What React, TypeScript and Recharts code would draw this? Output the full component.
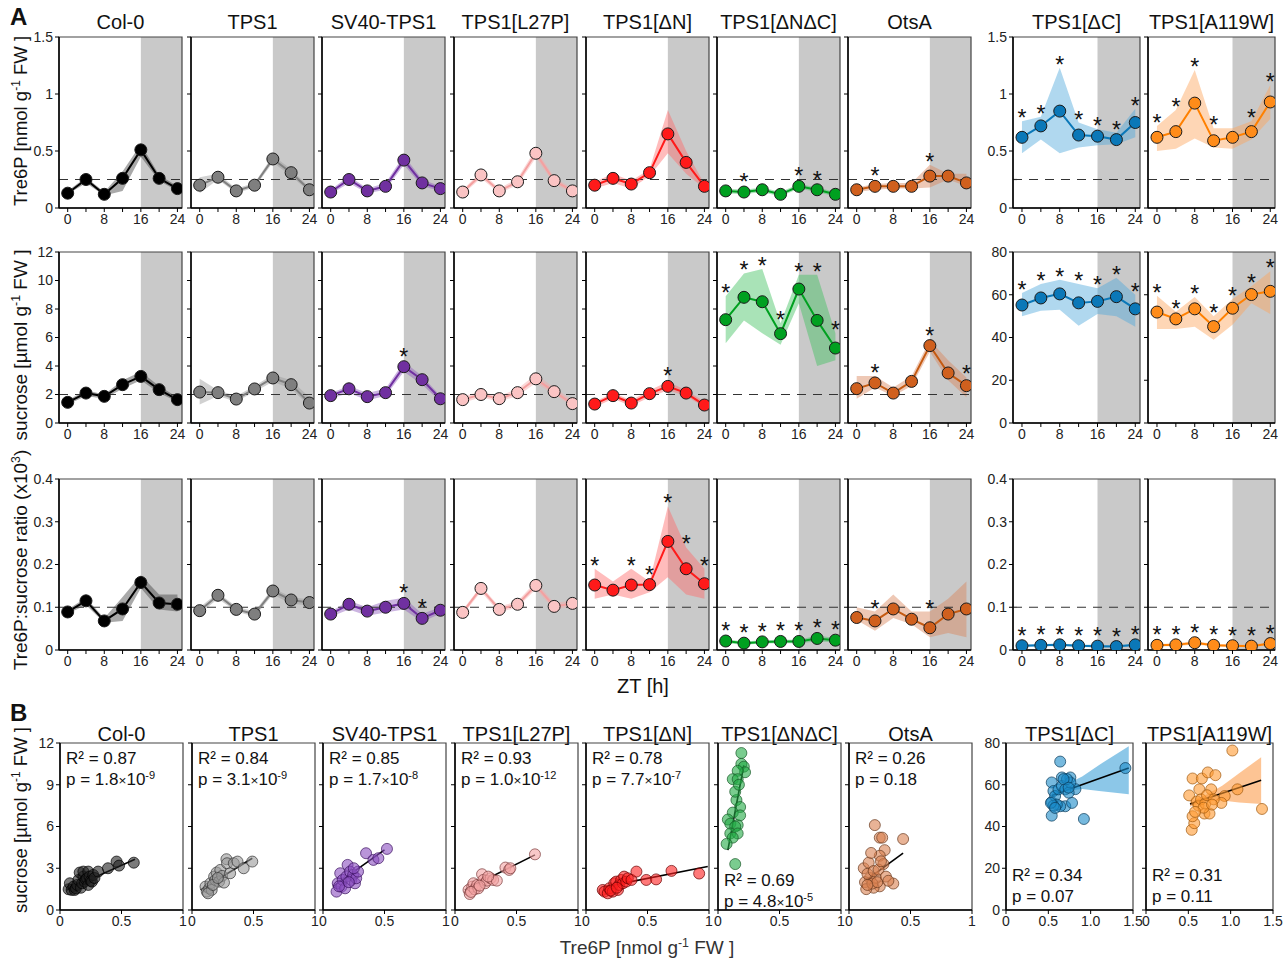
import React from "react"
import { ComposedChart, Line, Area, Scatter, XAxis, YAxis, ReferenceArea, ReferenceLine, LabelList } from "recharts"

const FONT = '"Liberation Sans", Arial, sans-serif'

const genotypes = ["Col-0", "TPS1", "SV40-TPS1", "TPS1[L27P]", "TPS1[ΔN]", "TPS1[ΔNΔC]", "OtsA", "TPS1[ΔC]", "TPS1[A119W]"]
const zt = [0, 4, 8, 12, 16, 20, 24]

// Tre6P [nmol/g FW]
const tre6pMean = [
  [0.13, 0.25, 0.12, 0.26, 0.51, 0.26, 0.17],
  [0.20, 0.27, 0.15, 0.20, 0.43, 0.31, 0.16],
  [0.14, 0.25, 0.15, 0.19, 0.42, 0.22, 0.17],
  [0.14, 0.29, 0.15, 0.23, 0.48, 0.24, 0.15],
  [0.20, 0.26, 0.21, 0.31, 0.65, 0.40, 0.19],
  [0.15, 0.14, 0.16, 0.12, 0.19, 0.16, 0.12],
  [0.16, 0.19, 0.19, 0.19, 0.28, 0.28, 0.22],
  [0.62, 0.72, 0.85, 0.64, 0.63, 0.60, 0.75],
  [0.62, 0.67, 0.92, 0.59, 0.62, 0.67, 0.93],
]
const tre6pLow = [
  [0.12, 0.22, 0.11, 0.15, 0.45, 0.24, 0.15],
  [0.13, 0.25, 0.13, 0.18, 0.40, 0.28, 0.14],
  [0.12, 0.22, 0.13, 0.16, 0.38, 0.19, 0.15],
  [0.12, 0.26, 0.13, 0.20, 0.44, 0.21, 0.13],
  [0.17, 0.22, 0.17, 0.28, 0.48, 0.30, 0.17],
  [0.13, 0.12, 0.14, 0.10, 0.17, 0.14, 0.10],
  [0.14, 0.16, 0.17, 0.17, 0.18, 0.25, 0.19],
  [0.48, 0.60, 0.48, 0.53, 0.55, 0.56, 0.62],
  [0.50, 0.52, 0.61, 0.53, 0.52, 0.60, 0.78],
]
const tre6pHigh = [
  [0.15, 0.27, 0.14, 0.32, 0.56, 0.29, 0.19],
  [0.27, 0.30, 0.17, 0.22, 0.46, 0.34, 0.18],
  [0.16, 0.28, 0.17, 0.22, 0.46, 0.25, 0.19],
  [0.16, 0.32, 0.17, 0.26, 0.52, 0.27, 0.17],
  [0.23, 0.30, 0.24, 0.34, 0.86, 0.50, 0.21],
  [0.17, 0.16, 0.18, 0.14, 0.21, 0.18, 0.14],
  [0.18, 0.21, 0.22, 0.22, 0.38, 0.30, 0.30],
  [0.76, 0.80, 1.23, 0.75, 0.69, 0.66, 0.87],
  [0.72, 0.86, 1.21, 0.70, 0.70, 0.76, 1.08],
]
const tre6pStars = [
  [0, 0, 0, 0, 0, 0, 0],
  [0, 0, 0, 0, 0, 0, 0],
  [0, 0, 0, 0, 0, 0, 0],
  [0, 0, 0, 0, 0, 0, 0],
  [0, 0, 0, 0, 0, 0, 0],
  [0, 1, 0, 0, 1, 1, 0],
  [0, 1, 0, 0, 1, 0, 0],
  [1, 1, 1, 1, 1, 1, 1],
  [1, 1, 1, 1, 0, 1, 1],
]

// sucrose [umol/g FW]
const sucMean = [
  [1.45, 2.10, 1.87, 2.69, 3.27, 2.34, 1.64],
  [2.17, 2.13, 1.68, 2.39, 3.16, 2.69, 1.40],
  [1.92, 2.40, 1.85, 2.13, 3.95, 3.04, 1.70],
  [1.64, 2.00, 1.71, 2.13, 3.10, 2.20, 1.36],
  [1.33, 1.92, 1.40, 2.06, 2.57, 2.10, 1.26],
  [7.25, 8.82, 8.51, 6.27, 9.40, 7.20, 5.26],
  [2.41, 2.81, 2.10, 2.92, 5.43, 3.51, 2.62],
  [55.2, 58.5, 60.4, 56.2, 56.9, 59.1, 53.4],
  [51.9, 48.7, 53.4, 45.1, 53.7, 60.1, 61.6],
]
const sucLow = [
  [1.3, 1.9, 1.7, 2.4, 3.0, 2.1, 1.5],
  [1.3, 1.9, 1.5, 2.2, 2.9, 2.4, 1.2],
  [1.7, 2.1, 1.6, 1.9, 3.6, 2.7, 1.5],
  [1.4, 1.8, 1.5, 1.9, 2.8, 2.0, 1.2],
  [1.1, 1.7, 1.2, 1.8, 2.3, 1.9, 1.1],
  [5.6, 7.2, 6.3, 5.5, 8.4, 4.0, 4.4],
  [1.7, 2.5, 1.9, 2.6, 5.0, 3.0, 1.8],
  [50.0, 52.5, 53.0, 45.5, 51.0, 50.0, 45.0],
  [44.0, 44.0, 45.0, 39.0, 46.0, 56.0, 51.0],
]
const sucHigh = [
  [1.6, 2.3, 2.0, 3.0, 3.6, 2.6, 1.8],
  [3.1, 2.3, 1.9, 2.6, 3.4, 3.0, 1.8],
  [2.1, 2.6, 2.1, 2.4, 4.3, 3.3, 1.9],
  [1.9, 2.2, 1.9, 2.4, 3.4, 2.5, 1.6],
  [1.5, 2.1, 1.6, 2.3, 2.9, 2.3, 1.5],
  [8.9, 10.5, 10.8, 7.0, 10.4, 10.4, 6.3],
  [3.3, 3.3, 2.5, 3.3, 5.8, 4.4, 3.2],
  [60.8, 65.0, 67.0, 65.0, 63.0, 67.9, 60.0],
  [59.5, 52.0, 59.0, 50.0, 58.0, 64.0, 71.0],
]
const sucStars = [
  [0, 0, 0, 0, 0, 0, 0],
  [0, 0, 0, 0, 0, 0, 0],
  [0, 0, 0, 0, 1, 0, 0],
  [0, 0, 0, 0, 0, 0, 0],
  [0, 0, 0, 0, 1, 0, 0],
  [1, 1, 1, 1, 1, 1, 1],
  [0, 1, 0, 0, 1, 0, 1],
  [1, 1, 1, 1, 1, 1, 1],
  [1, 1, 1, 1, 1, 1, 1],
]

// Tre6P:sucrose ratio (x10^3)
const ratioMean = [
  [0.089, 0.115, 0.068, 0.096, 0.158, 0.110, 0.107],
  [0.092, 0.128, 0.095, 0.084, 0.138, 0.117, 0.111],
  [0.084, 0.107, 0.091, 0.100, 0.109, 0.074, 0.093],
  [0.088, 0.144, 0.095, 0.107, 0.151, 0.102, 0.109],
  [0.152, 0.140, 0.152, 0.153, 0.254, 0.190, 0.155],
  [0.021, 0.016, 0.019, 0.020, 0.020, 0.027, 0.023],
  [0.076, 0.068, 0.096, 0.072, 0.052, 0.084, 0.096],
  [0.010, 0.011, 0.012, 0.010, 0.009, 0.008, 0.012],
  [0.011, 0.012, 0.017, 0.011, 0.010, 0.009, 0.015],
]
const ratioLow = [
  [0.085, 0.105, 0.064, 0.068, 0.145, 0.095, 0.090],
  [0.085, 0.120, 0.090, 0.078, 0.130, 0.108, 0.104],
  [0.078, 0.095, 0.080, 0.088, 0.095, 0.066, 0.085],
  [0.082, 0.136, 0.088, 0.100, 0.142, 0.095, 0.102],
  [0.120, 0.130, 0.120, 0.135, 0.170, 0.130, 0.120],
  [0.016, 0.012, 0.015, 0.016, 0.016, 0.020, 0.018],
  [0.070, 0.045, 0.075, 0.060, 0.030, 0.040, 0.030],
  [0.007, 0.008, 0.009, 0.007, 0.006, 0.006, 0.009],
  [0.008, 0.009, 0.013, 0.008, 0.007, 0.007, 0.011],
]
const ratioHigh = [
  [0.095, 0.122, 0.074, 0.124, 0.175, 0.130, 0.130],
  [0.100, 0.134, 0.102, 0.090, 0.145, 0.124, 0.118],
  [0.090, 0.115, 0.100, 0.115, 0.122, 0.085, 0.100],
  [0.094, 0.150, 0.102, 0.114, 0.160, 0.110, 0.116],
  [0.190, 0.160, 0.190, 0.160, 0.336, 0.240, 0.190],
  [0.025, 0.020, 0.023, 0.024, 0.024, 0.034, 0.028],
  [0.100, 0.090, 0.130, 0.090, 0.090, 0.120, 0.160],
  [0.013, 0.014, 0.015, 0.013, 0.012, 0.011, 0.015],
  [0.014, 0.016, 0.021, 0.014, 0.013, 0.012, 0.019],
]
const ratioStars = [
  [0, 0, 0, 0, 0, 0, 0],
  [0, 0, 0, 0, 0, 0, 0],
  [0, 0, 0, 0, 1, 1, 0],
  [0, 0, 0, 0, 0, 0, 0],
  [1, 0, 1, 1, 1, 1, 1],
  [1, 1, 1, 1, 1, 1, 1],
  [0, 1, 0, 0, 1, 0, 0],
  [1, 1, 1, 1, 1, 1, 1],
  [1, 1, 1, 1, 1, 1, 1],
]

// panel B: Tre6P (x) vs sucrose (y)
const scCol0 = [[0.07, 1.49], [0.08, 1.92], [0.095, 1.44], [0.11, 1.68], [0.12, 1.44], [0.13, 1.55], [0.14, 1.8], [0.15, 2.16], [0.16, 2.69], [0.17, 1.6], [0.18, 1.92], [0.19, 2.4], [0.19, 2.76], [0.2, 2.04], [0.21, 2.2], [0.22, 2.28], [0.23, 2.76], [0.23, 1.8], [0.24, 2.4], [0.25, 2.1], [0.26, 2.04], [0.27, 2.52], [0.28, 2.3], [0.31, 2.76], [0.39, 3.0], [0.46, 3.48], [0.48, 3.19], [0.6, 3.4]]
const scTps1 = [[0.11, 1.68], [0.12, 1.32], [0.14, 1.56], [0.15, 1.92], [0.16, 1.44], [0.18, 2.4], [0.19, 2.16], [0.2, 2.69], [0.22, 2.04], [0.23, 2.88], [0.245, 2.45], [0.26, 1.97], [0.28, 3.65], [0.285, 3.36], [0.31, 2.64], [0.34, 3.36], [0.37, 3.48], [0.42, 3.0], [0.49, 3.48], [0.13, 1.2], [0.17, 1.8], [0.21, 2.3]]
const scSv40 = [[0.11, 1.32], [0.12, 1.92], [0.14, 2.64], [0.15, 1.68], [0.16, 2.16], [0.18, 1.56], [0.19, 2.4], [0.2, 3.24], [0.22, 2.76], [0.23, 2.16], [0.245, 2.52], [0.26, 1.92], [0.27, 2.28], [0.285, 2.76], [0.35, 4.08], [0.41, 3.6], [0.45, 3.72], [0.52, 4.39], [0.13, 1.7], [0.21, 2.0], [0.25, 3.0]]
const scL27p = [[0.11, 1.44], [0.12, 1.15], [0.14, 1.68], [0.15, 1.92], [0.16, 1.49], [0.18, 1.8], [0.19, 1.56], [0.22, 2.57], [0.23, 2.16], [0.245, 1.92], [0.26, 2.11], [0.29, 2.28], [0.31, 2.16], [0.34, 2.11], [0.41, 3.05], [0.44, 2.88], [0.45, 3.0], [0.65, 4.0], [0.13, 1.3], [0.2, 1.75], [0.27, 2.4]]
const scDN = [[0.136, 1.44], [0.15, 1.32], [0.177, 1.2], [0.19, 1.56], [0.218, 1.32], [0.23, 1.92], [0.245, 2.04], [0.26, 1.44], [0.27, 1.8], [0.286, 2.16], [0.3, 1.92], [0.31, 2.4], [0.327, 2.04], [0.34, 2.28], [0.37, 2.16], [0.41, 2.76], [0.49, 2.16], [0.57, 2.2], [0.695, 2.81], [0.92, 2.62], [0.2, 1.4], [0.25, 1.6]]
const scDNDC = [[0.19, 11.28], [0.19, 10.5], [0.21, 10.3], [0.22, 9.9], [0.16, 10.0], [0.12, 9.4], [0.16, 9.4], [0.15, 7.9], [0.18, 7.4], [0.12, 7.0], [0.08, 6.5], [0.1, 6.2], [0.16, 6.1], [0.14, 6.0], [0.1, 5.5], [0.16, 5.5], [0.12, 5.2], [0.07, 4.75], [0.14, 3.3], [0.18, 6.8], [0.14, 8.5], [0.17, 9.0]]
const scOtsA = [[0.21, 6.1], [0.25, 5.2], [0.27, 5.2], [0.44, 5.1], [0.29, 4.3], [0.25, 3.9], [0.36, 1.9], [0.25, 1.7], [0.2, 1.6], [0.17, 2.3], [0.22, 2.3], [0.28, 3.3], [0.12, 3.0], [0.13, 2.0], [0.14, 1.5], [0.15, 2.6], [0.16, 3.4], [0.18, 4.1], [0.2, 2.8], [0.19, 1.9], [0.23, 2.0], [0.24, 2.9], [0.26, 3.5], [0.3, 2.4], [0.15, 1.8], [0.32, 2.1]]
const scDC = [[0.64, 71.1], [0.54, 45.2], [0.54, 51.7], [0.54, 61.1], [0.66, 63.5], [0.76, 63.5], [0.7, 49.7], [0.78, 51.3], [0.92, 43.6], [1.41, 68], [0.82, 57.9], [0.56, 57], [0.58, 54.6], [0.62, 57.8], [0.66, 59.4], [0.7, 57.8], [0.74, 56.2], [0.76, 61.1], [0.72, 62.7], [0.64, 49.7], [0.6, 50.5], [0.56, 50], [0.68, 62.7], [0.74, 58.6], [0.53, 51.3], [0.58, 48.9]]
const scA119W = [[1.02, 76.4], [0.55, 63], [0.66, 63], [0.73, 65.9], [0.82, 64.6], [0.51, 54.9], [0.63, 57.8], [0.77, 57.8], [0.93, 54.6], [1.08, 57.8], [1.37, 48.4], [0.54, 38.4], [0.57, 41.6], [0.55, 44.9], [0.69, 46.2], [0.75, 46.2], [0.89, 51.3], [0.6, 52], [0.62, 50], [0.65, 53], [0.7, 51], [0.72, 55], [0.68, 49], [0.58, 47], [0.8, 53], [0.78, 50.5]]
const scatterSets = [scCol0, scTps1, scSv40, scL27p, scDN, scDNDC, scOtsA, scDC, scA119W]

// regression line ends [x0, y0, x1, y1]
const fitLines = [
  [0.054, 1.44, 0.61, 3.65],
  [0.07, 1.44, 0.49, 3.72],
  [0.08, 1.68, 0.5, 4.32],
  [0.08, 1.44, 0.65, 3.96],
  [0.15, 1.66, 0.99, 3.12],
  [0.08, 4.3, 0.21, 10.4],
  [0.14, 2.15, 0.44, 4.08],
  [0.54, 54.9, 1.45, 68.0],
  [0.52, 50.8, 1.36, 62.2],
]
// confidence bands [x, low, high]
const bandDC = [[0.54, 53.5, 56.5], [0.7, 57, 60], [0.9, 58, 64], [1.1, 57, 69.5], [1.45, 55.5, 78.5]]
const bandA119W = [[0.52, 49.5, 52], [0.7, 52, 55], [0.9, 52.5, 59.5], [1.1, 51.5, 65.5], [1.36, 50.8, 73.2]]

const r2Text = ["0.87", "0.84", "0.85", "0.93", "0.78", "0.69", "0.26", "0.34", "0.31"]
const pMant = ["1.8", "3.1", "1.7", "1.0", "7.7", "4.8", "0.18", "0.07", "0.11"]
const pExp = ["-9", "-9", "-8", "-12", "-7", "-5", "", "", ""]

const lineColors = ["#000000", "#808080", "#7030a0", "#f4a0a0", "#ff1a1a", "#00a020", "#c55a11", "#0b78b8", "#ff8000"]
const dotColors = ["#000000", "#7f7f7f", "#7030a0", "#fbc4c4", "#ff1a1a", "#00a020", "#d0601e", "#0b78b8", "#ff8c1a"]
const bandColors = ["#404040", "#9a9a9a", "#8e5cbd", "#f7a8a8", "#ff6b6b", "#40c060", "#d9865a", "#4fa9dc", "#fca45a"]
const scFill = ["#222222", "#9a9a9a", "#8a4fbf", "#f4a3a3", "#ff2020", "#22aa44", "#d98050", "#1a8ac8", "#ff9a30"]
const scStroke = ["#000000", "#333333", "#3a1060", "#7a3a3a", "#660000", "#1a5a2a", "#6a3a20", "#0a3a5a", "#a05a10"]

const colLeftA = [59, 191, 322, 454, 586, 717, 848, 1013, 1148]
const colLeftB = [60, 192, 323, 455, 586, 718, 849, 1006, 1146]
const colWidth = [123, 123, 123, 123, 123, 123, 123, 127, 127]
const rowTopA = [37, 252, 479]
const rowH = 171
const xDom = [-1.9, 25]

const rowCfg = [
  { mean: tre6pMean, lo: tre6pLow, hi: tre6pHigh, stars: tre6pStars, max: 1.5, ticks: [0, 0.5, 1, 1.5], ref: 0.25 },
  { mean: sucMean, lo: sucLow, hi: sucHigh, stars: sucStars, max: 12, ticks: [0, 2, 4, 6, 8, 10, 12], ref: 2, wideMax: 80, wideTicks: [0, 20, 40, 60, 80] },
  { mean: ratioMean, lo: ratioLow, hi: ratioHigh, stars: ratioStars, max: 0.4, ticks: [0, 0.1, 0.2, 0.3, 0.4], ref: 0.1 },
]

const tickStyle = { fontSize: 14, fill: "#222", fontFamily: FONT }

// star sits above the band top or the dot, whichever is higher
const makeStar = (rows: any[], pxPerUnit: number) => (props: any) => {
  const { x, y, index } = props
  const d = rows[index]
  if (!d || !d.mark) return null
  const bandTop = y - (d.hi - d.v) * pxPerUnit
  const top = Math.min(bandTop, y - 7)
  return (
    <text x={x} y={top + 5} textAnchor="middle" fontSize={23} fill="#111" fontFamily={FONT}>
      *
    </text>
  )
}

function TimePanel({ row, g }: { row: number; g: number }) {
  const cfg: any = rowCfg[row]
  const wide = g >= 7 && cfg.wideMax
  const yMax = wide ? cfg.wideMax : cfg.max
  const yTicks = wide ? cfg.wideTicks : cfg.ticks
  const showY = g === 0 || g === 7
  const w = colWidth[g]
  const ML = 44
  const MT = 20
  const data = zt.map((t, i) => ({
    t,
    v: cfg.mean[g][i],
    band: [cfg.lo[g][i], cfg.hi[g][i]],
    hi: cfg.hi[g][i],
    mark: cfg.stars[g][i] ? "*" : "",
  }))
  return (
    <div style={{ position: "absolute", left: colLeftA[g] - ML, top: rowTopA[row] - MT }}>
      <ComposedChart width={w + ML + 10} height={rowH + MT + 24} data={data} margin={{ top: MT, right: 10, bottom: 0, left: 0 }}>
        <XAxis
          dataKey="t"
          type="number"
          domain={xDom}
          allowDataOverflow
          ticks={zt}
          interval={0}
          height={24}
          tickSize={4}
          tickLine={{ stroke: "#000" }}
          axisLine={{ stroke: "#000", strokeWidth: 1.5 }}
          tick={tickStyle}
          tickFormatter={(v) => (v % 8 === 0 ? String(v) : "")}
        />
        <YAxis
          type="number"
          domain={[0, yMax]}
          allowDataOverflow
          ticks={yTicks}
          interval={0}
          width={ML}
          tickSize={4}
          tickLine={{ stroke: "#000" }}
          axisLine={{ stroke: "#000", strokeWidth: 1.5 }}
          tick={tickStyle}
          tickFormatter={(v) => (showY ? String(v) : "")}
        />
        <ReferenceArea x1={16} x2={xDom[1]} fill="#c9c9c9" fillOpacity={1} stroke="none" />
        {!wide && <ReferenceLine y={cfg.ref} stroke="#333" strokeDasharray="9 7" strokeWidth={1.2} />}
        <Area dataKey="band" stroke="none" fill={bandColors[g]} fillOpacity={0.45} isAnimationActive={false} />
        <Line
          dataKey="v"
          stroke={lineColors[g]}
          strokeWidth={2}
          dot={{ r: 6, fill: dotColors[g], stroke: "#1a1a1a", strokeWidth: 1, fillOpacity: 1 }}
          activeDot={false}
          isAnimationActive={false}
        >
          <LabelList dataKey="mark" content={makeStar(data, rowH / yMax)} />
        </Line>
        <ReferenceArea x1={xDom[0]} x2={xDom[1]} y1={0} y2={yMax} fill="none" stroke="#444" strokeWidth={1.2} />
      </ComposedChart>
    </div>
  )
}

function ScatterPanel({ g }: { g: number }) {
  const wide = g >= 7
  const xMax = wide ? 1.5 : 1
  const yMax = wide ? 80 : 12
  const xTicks = wide ? [0, 0.5, 1, 1.5] : [0, 0.5, 1]
  const yTicks = wide ? [0, 20, 40, 60, 80] : [0, 3, 6, 9, 12]
  const showY = g === 0 || g === 7
  const w = colWidth[g]
  const h = 167
  const ML = 44
  const MT = 10
  const pts = scatterSets[g].map(([x, y]) => ({ x, y }))
  const bandSrc = g === 7 ? bandDC : g === 8 ? bandA119W : null
  const band = bandSrc ? bandSrc.map(([x, lo, hi]) => ({ x, r: [lo, hi] })) : []
  const [x0, y0, x1, y1] = fitLines[g]
  return (
    <div style={{ position: "absolute", left: colLeftB[g] - ML, top: 743 - MT }}>
      <ComposedChart width={w + ML + 12} height={h + MT + 26} margin={{ top: MT, right: 12, bottom: 0, left: 0 }}>
        <XAxis
          dataKey="x"
          type="number"
          domain={[0, xMax]}
          allowDataOverflow
          ticks={xTicks}
          interval={0}
          height={26}
          tickSize={4}
          tickLine={{ stroke: "#000" }}
          axisLine={{ stroke: "#000", strokeWidth: 1.5 }}
          tick={tickStyle}
          tickFormatter={(v) => (v === 0 ? "0" : wide ? v.toFixed(1) : String(v))}
        />
        <YAxis
          dataKey="y"
          type="number"
          domain={[0, yMax]}
          allowDataOverflow
          ticks={yTicks}
          interval={0}
          width={ML}
          tickSize={4}
          tickLine={{ stroke: "#000" }}
          axisLine={{ stroke: "#000", strokeWidth: 1.5 }}
          tick={tickStyle}
          tickFormatter={(v) => (showY ? String(v) : "")}
        />
        {bandSrc && (
          <Area data={band} dataKey="r" stroke="none" fill={bandColors[g]} fillOpacity={0.65} isAnimationActive={false} />
        )}
        <Scatter
          data={pts}
          isAnimationActive={false}
          shape={(p: any) => (
            <circle cx={p.cx} cy={p.cy} r={5.5} fill={scFill[g]} fillOpacity={0.6} stroke={scStroke[g]} strokeOpacity={0.7} strokeWidth={1} />
          )}
        />
        <ReferenceLine segment={[{ x: x0, y: y0 }, { x: x1, y: y1 }]} stroke="#000" strokeWidth={1.6} />
        <ReferenceArea x1={0} x2={xMax} y1={0} y2={yMax} fill="none" stroke="#444" strokeWidth={1.2} />
      </ComposedChart>
    </div>
  )
}

function Txt({ x, y, children, size = 20, left = false, rot = 0, weight = 400, color = "#111" }: any) {
  return (
    <div
      style={{
        position: "absolute",
        left: x,
        top: y,
        transform: `translate(${left ? "0" : "-50%"}, -50%) rotate(${rot}deg)`,
        fontSize: size,
        fontWeight: weight,
        color,
        whiteSpace: "nowrap",
        lineHeight: 1,
        fontFamily: FONT,
      }}
    >
      {children}
    </div>
  )
}

const sup = { fontSize: "0.65em", verticalAlign: "0.55em" }

function StatText({ g }: { g: number }) {
  const bottom = g >= 5 && g !== 6
  const x = colLeftB[g] + 6
  const y = bottom ? (g === 5 ? 880 : 875) : 758
  return (
    <>
      <Txt x={x} y={y} size={17} left>
        R² = {r2Text[g]}
      </Txt>
      <Txt x={x} y={y + 21} size={17} left>
        p = {pMant[g]}
        {pExp[g] && (
          <>
            <span style={{ fontSize: "0.8em" }}>×</span>10<span style={sup}>{pExp[g]}</span>
          </>
        )}
      </Txt>
    </>
  )
}

export default function App() {
  return (
    <div style={{ position: "absolute", left: 0, top: 0, width: 1284, height: 962, background: "#fff", fontFamily: FONT }}>
      <Txt x={10} y={17} size={24} weight={700} left>A</Txt>
      <Txt x={10} y={713} size={24} weight={700} left>B</Txt>

      {genotypes.map((name, g) => (
        <Txt key={"ta" + g} x={colLeftA[g] + colWidth[g] / 2} y={22}>{name}</Txt>
      ))}
      {genotypes.map((name, g) => (
        <Txt key={"tb" + g} x={colLeftB[g] + colWidth[g] / 2} y={734}>{name}</Txt>
      ))}

      {[0, 1, 2].map((row) => genotypes.map((_, g) => <TimePanel key={row + "-" + g} row={row} g={g} />))}
      {genotypes.map((_, g) => <ScatterPanel key={"s" + g} g={g} />)}
      {genotypes.map((_, g) => <StatText key={"st" + g} g={g} />)}

      <Txt x={20} y={121} size={18.5} rot={-90}>
        Tre6P [nmol g<span style={sup}>-1</span> FW ]
      </Txt>
      <Txt x={20} y={345} size={19} rot={-90}>
        sucrose [µmol g<span style={sup}>-1</span> FW ]
      </Txt>
      <Txt x={20} y={560} size={19} rot={-90}>
        Tre6P:sucrose ratio (x10<span style={sup}>3</span>)
      </Txt>
      <Txt x={20} y={820} size={18.5} rot={-90}>
        sucrose [µmol g<span style={sup}>-1</span> FW ]
      </Txt>

      <Txt x={643} y={686} size={20}>ZT [h]</Txt>
      <Txt x={647} y={947} size={19} color="#333">
        Tre6P [nmol g<span style={sup}>-1</span> FW ]
      </Txt>
    </div>
  )
}
